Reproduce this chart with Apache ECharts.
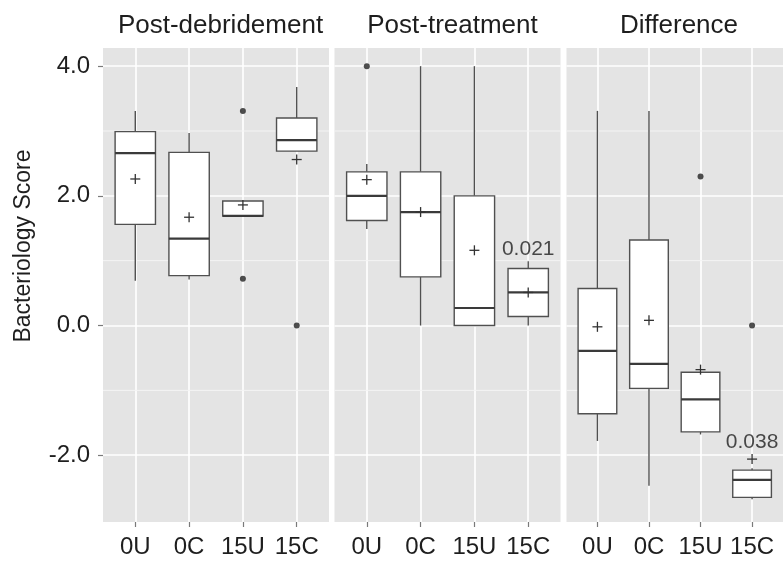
<!DOCTYPE html>
<html><head><meta charset="utf-8">
<script src="https://cdn.jsdelivr.net/npm/echarts@6/dist/echarts.min.js"></script>
<style>html,body{margin:0;padding:0;background:#fff}#c{width:783px;height:562px}</style>
</head><body><div id="c"></div>
<script>
const categories = ['0U', '0C', '15U', '15C'];
const panelTitles = ['Post-debridement', 'Post-treatment', 'Difference'];
const yTickValues = [-2, 0, 2, 4];
const yMinorValues = [-1, 1, 3];
// [lower whisker, Q1, median, Q3, upper whisker]
const postDebridementBoxes = [
  [0.69, 1.56, 2.66, 2.99, 3.31],
  [0.71, 0.77, 1.34, 2.67, 2.97],
  [1.69, 1.69, 1.69, 1.92, 1.92],
  [2.69, 2.69, 2.86, 3.20, 3.68]
];
const postTreatmentBoxes = [
  [1.49, 1.62, 2.00, 2.37, 2.49],
  [0.00, 0.75, 1.75, 2.37, 4.00],
  [0.00, 0.00, 0.27, 2.00, 4.00],
  [0.00, 0.14, 0.51, 0.88, 0.99]
];
const differenceBoxes = [
  [-1.78, -1.36, -0.39, 0.57, 3.31],
  [-2.47, -0.97, -0.59, 1.32, 3.31],
  [-1.68, -1.64, -1.14, -0.72, -0.72],
  [-2.68, -2.65, -2.38, -2.23, -2.20]
];
const postDebridementMeans = [2.26, 1.67, 1.86, 2.56];
const postTreatmentMeans = [2.25, 1.75, 1.16, 0.51];
const differenceMeans = [-0.02, 0.08, -0.68, -2.06];
const postDebridementOutliers = [['15U', 3.31], ['15U', 0.72], ['15C', 0.00]];
const postTreatmentOutliers = [['0U', 4.00]];
const differenceOutliers = [['15U', 2.30], ['15C', 0.00]];
const postDebridementNotes = [];
const postTreatmentNotes = [['15C', 1.18, '0.021']];
const differenceNotes = [['15C', -1.80, '0.038']];

const panelBoxes = [postDebridementBoxes, postTreatmentBoxes, differenceBoxes];
const panelMeans = [postDebridementMeans, postTreatmentMeans, differenceMeans];
const panelOutliers = [postDebridementOutliers, postTreatmentOutliers, differenceOutliers];
const panelNotes = [postDebridementNotes, postTreatmentNotes, differenceNotes];

const FONT = 'Liberation Sans';
const TXT = '#1e1e1e';
const gridLefts = [103, 334.5, 566.5];
const gridW = 226;
const titleCenters = [215.5, 447.5, 674];
const yMin = -3.03, yMax = 4.28;
const catX = c => categories.indexOf(c) + 1;

function boxRender(params, api) {
  const x = api.value(0);
  const half = api.size([0.75, 0])[0] / 2;
  const c = v => api.coord([x, v]);
  const pLo = c(api.value(1)), pQ1 = c(api.value(2)), pMed = c(api.value(3)), pQ3 = c(api.value(4)), pHi = c(api.value(5));
  const cx = pQ1[0];
  const stroke = '#505050';
  return {
    type: 'group', children: [
      { type: 'line', shape: { x1: cx, y1: pHi[1], x2: cx, y2: pQ3[1] }, style: { stroke, lineWidth: 1.4 } },
      { type: 'line', shape: { x1: cx, y1: pQ1[1], x2: cx, y2: pLo[1] }, style: { stroke, lineWidth: 1.4 } },
      { type: 'rect', shape: { x: cx - half, y: pQ3[1], width: 2 * half, height: pQ1[1] - pQ3[1] }, style: { fill: '#ffffff', stroke, lineWidth: 1.4 } },
      { type: 'line', shape: { x1: cx - half, y1: pMed[1], x2: cx + half, y2: pMed[1] }, style: { stroke: '#3a3a3a', lineWidth: 2.2 } }
    ]
  };
}
function plusRender(params, api) {
  const p = api.coord([api.value(0), api.value(1)]);
  const s = 5;
  const st = { stroke: '#333', lineWidth: 1.3 };
  return {
    type: 'group', children: [
      { type: 'line', shape: { x1: p[0] - s, y1: p[1], x2: p[0] + s, y2: p[1] }, style: st },
      { type: 'line', shape: { x1: p[0], y1: p[1] - s, x2: p[0], y2: p[1] + s }, style: st }
    ]
  };
}
function minorGridRender(params, api) {
  const cs = params.coordSys;
  const y = api.coord([api.value(0), api.value(1)])[1];
  return { type: 'line', shape: { x1: cs.x, y1: y, x2: cs.x + cs.width, y2: y },
    style: { stroke: '#f4f4f4', lineWidth: 1 } };
}

const grids = [], xAxes = [], yAxes = [], series = [], titles = [];
for (let i = 0; i < 3; i++) {
  grids.push({ left: gridLefts[i], width: gridW, top: 48, height: 474, show: true, backgroundColor: '#e4e4e4', borderWidth: 0 });
  titles.push({ text: panelTitles[i], left: titleCenters[i], textAlign: 'center', top: 8,
    textStyle: { fontFamily: FONT, fontSize: 26, fontWeight: 'normal', color: TXT } });
  xAxes.push({
    type: 'value', gridIndex: i, min: 0.4, max: 4.6, position: 'bottom',
    axisLine: { show: false, onZero: false },
    axisTick: { show: true, length: 5, customValues: [1, 2, 3, 4], lineStyle: { color: '#7a7a7a', width: 1.2 } },
    axisLabel: { customValues: [1, 2, 3, 4], formatter: v => categories[Math.round(v) - 1], margin: 13,
      fontFamily: FONT, fontSize: 24, color: TXT },
    splitLine: { show: true, lineStyle: { color: '#ffffff', width: 1.6 } }
  });
  yAxes.push({
    type: 'value', gridIndex: i, min: yMin, max: yMax, position: 'left',
    axisLine: { show: false, onZero: false },
    axisTick: { show: i === 0, length: 5, customValues: yTickValues, lineStyle: { color: '#7a7a7a', width: 1.2 } },
    axisLabel: { show: i === 0, customValues: yTickValues, formatter: v => v.toFixed(1), margin: 13,
      fontFamily: FONT, fontSize: 24, color: TXT },
    splitLine: { show: true, lineStyle: { color: '#ffffff', width: 1.6 } }
  });
  series.push({
    type: 'custom', xAxisIndex: i, yAxisIndex: i, renderItem: minorGridRender, z: 1, silent: true,
    data: yMinorValues.map(v => [1, v])
  });
  series.push({
    type: 'custom', xAxisIndex: i, yAxisIndex: i, renderItem: boxRender, z: 3,
    data: panelBoxes[i].map((b, j) => [j + 1].concat(b)), silent: true
  });
  series.push({
    type: 'custom', xAxisIndex: i, yAxisIndex: i, renderItem: plusRender, z: 4,
    data: panelMeans[i].map((m, j) => [j + 1, m]), silent: true
  });
  series.push({
    type: 'scatter', xAxisIndex: i, yAxisIndex: i, z: 5, symbol: 'circle', symbolSize: 6,
    itemStyle: { color: '#222' }, silent: true,
    data: panelOutliers[i].map(o => [catX(o[0]), o[1]])
  });
  if (panelNotes[i].length) {
    series.push({
      type: 'scatter', xAxisIndex: i, yAxisIndex: i, z: 6, symbolSize: 0, silent: true,
      label: { show: true, position: 'inside', formatter: p => p.data[2], fontFamily: FONT, fontSize: 21, color: TXT },
      data: panelNotes[i].map(n => [catX(n[0]), n[1], n[2]])
    });
  }
}

const chart = echarts.init(document.getElementById('c'), null, { renderer: 'canvas' });
chart.setOption({
  animation: false,
  backgroundColor: '#ffffff',
  title: titles,
  grid: grids,
  xAxis: xAxes,
  yAxis: yAxes,
  series: series,
  graphic: [{
    type: 'text', x: 24, y: 246, rotation: Math.PI / 2,
    style: { text: 'Bacteriology Score', fontFamily: FONT, fontSize: 23, fill: TXT, align: 'center', verticalAlign: 'middle' }
  }]
});
</script></body></html>
